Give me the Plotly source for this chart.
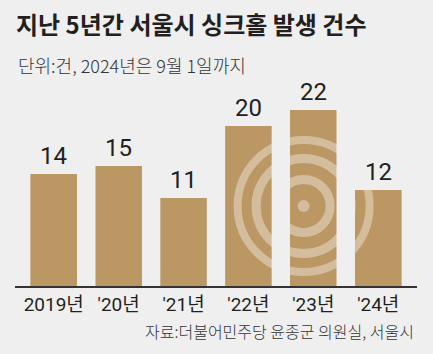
import plotly.graph_objects as go

categories = ["2019년", "'20년", "'21년", "'22년", "'23년", "'24년"]
counts = [14, 15, 11, 20, 22, 12]
title_text = "지난 5년간 서울시 싱크홀 발생 건수"
subtitle_text = "단위:건, 2024년은 9월 1일까지"
source_text = "자료:더불어민주당 윤종군 의원실, 서울시"

W, H = 433, 354
L, R, T, B = 15, 16, 90, 68
PW, PH = W - L - R, H - T - B
BG = "#EFEFEF"
BAR = "#BB9764"
KR = "Noto Sans CJK KR, Noto Sans, sans-serif"
NUM = "Liberation Sans Narrow, Roboto, Liberation Sans, Noto Sans CJK KR, sans-serif"
bar_w = 0.72
ymax = 24.5


def px_x(px):
    return (px - L) / PW


def px_y(py):
    return (H - B - py) / PH


x_idx = list(range(len(categories)))

fig = go.Figure()
fig.add_trace(go.Bar(x=x_idx, y=counts, marker=dict(color=BAR, line=dict(width=0)),
                     width=bar_w, hoverinfo="skip"))

annotations = []
for i, v in zip(x_idx, counts):
    annotations.append(dict(x=i, y=v, xref="x", yref="y", text=str(v), showarrow=False,
                            yanchor="bottom", yshift=2,
                            font=dict(family=NUM, size=24, color="#231F20")))

annotations.append(dict(x=px_x(16), y=px_y(65), xref="paper", yref="paper", text=subtitle_text,
                        showarrow=False, xanchor="left", yanchor="middle",
                        font=dict(family=KR, size=18, color="#333333", weight=300)))
annotations.append(dict(x=px_x(416), y=px_y(331), xref="paper", yref="paper", text=source_text,
                        showarrow=False, xanchor="right", yanchor="middle",
                        font=dict(family=KR, size=16, color="#333333", weight=300)))

# decorative concentric rings (watermark)
ring_color = "rgba(255,255,255,0.37)"
cx, cy = 3.85, 10
shapes = []
shapes.append(dict(type="circle", xref="x", yref="y", xsizemode="pixel", ysizemode="pixel",
                   xanchor=cx, yanchor=cy, x0=-6, x1=6, y0=-6, y1=6,
                   fillcolor=ring_color, line=dict(width=0), layer="above"))
for r, w in [(26.5, 9), (47.5, 9), (66, 8)]:
    shapes.append(dict(type="circle", xref="x", yref="y", xsizemode="pixel", ysizemode="pixel",
                       xanchor=cx, yanchor=cy, x0=-r, x1=r, y0=-r, y1=r,
                       line=dict(color=ring_color, width=w), layer="above"))
# mask rings outside the bars
h = bar_w / 2
for i in range(len(counts) - 1):
    shapes.append(dict(type="rect", xref="x", yref="y", x0=i + h, x1=i + 1 - h, y0=0, y1=ymax,
                       fillcolor=BG, line=dict(width=0), layer="above"))
for i, v in zip(x_idx, counts):
    shapes.append(dict(type="rect", xref="x", yref="y", x0=i - h, x1=i + h, y0=v, y1=ymax,
                       fillcolor=BG, line=dict(width=0), layer="above"))

fig.update_layout(
    width=W, height=H,
    margin=dict(l=L, r=R, t=T, b=B, pad=0),
    paper_bgcolor=BG, plot_bgcolor=BG,
    showlegend=False,
    title=dict(text=title_text, xref="container", yref="container",
               x=16 / W, y=1 - 26 / H, xanchor="left", yanchor="middle",
               font=dict(family=KR, size=24, color="#231F20", weight=700)),
    xaxis=dict(tickmode="array", tickvals=x_idx, ticktext=categories,
               range=[-0.597, 5.597], showline=True, linecolor="#333333", linewidth=1.5,
               showgrid=False, zeroline=False, ticks="",
               tickfont=dict(family=NUM, size=19, color="#231F20"),
               fixedrange=True),
    yaxis=dict(range=[0, ymax], visible=False, showgrid=False, zeroline=False, fixedrange=True),
    annotations=annotations,
    shapes=shapes,
)

fig.write_html("out.html", config={"displayModeBar": False})
